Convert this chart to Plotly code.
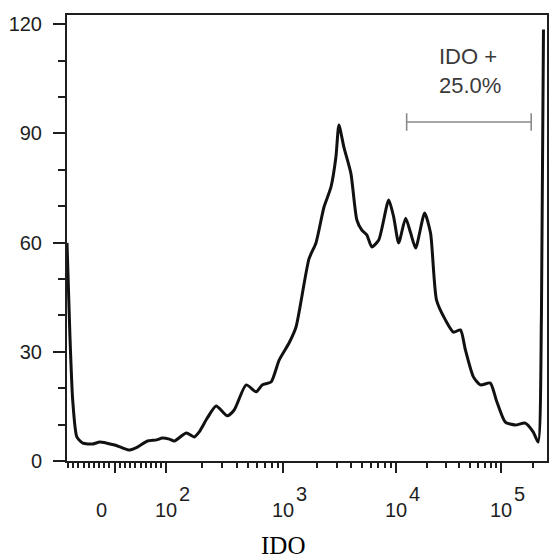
import numpy as np
import plotly.graph_objects as go

# ---------------- data ----------------
# IDO fluorescence intensity (biexponential axis) and event counts
IDO_VALUES = [-92, -86.5, -81, -73, -61.5, -42, -29, -15, 0, 15, 29, 44, 63.5, 81, 92,
              106, 117, 148, 173, 191, 224, 267, 332, 381, 483, 588, 662, 789, 925,
              1130, 1303, 1698, 1959, 2306, 2661, 2946, 3133, 3467, 4000, 4519, 5003,
              5538, 6134, 7075, 8670, 9600, 10670, 12420, 13860, 15450, 18790, 21380,
              24370, 29640, 35250, 41040, 45730, 54420, 63390, 78740, 89730, 109100,
              135600, 168400, 200300, 223400, 240000, 251000]
COUNTS = [59.9, 35, 16.7, 6.6, 4.9, 4.7, 5.2, 4.9, 4.4, 3.6, 3.0, 3.8, 5.5, 5.8, 6.3,
          6.0, 5.5, 7.7, 6.6, 8.0, 11.8, 15.1, 12.4, 14, 20.9, 19, 20.9, 21.7, 27.7,
          32.4, 36.8, 55.5, 59.9, 69.7, 75.2, 83.5, 92.3, 86.2, 79, 66.2, 63.4,
          62.1, 58.8, 60.7, 71.7, 67, 59.9, 66.7, 62.6, 58.5, 68.1, 62.6,
          44.2, 38.7, 35.4, 36, 30.5, 23.1, 20.9, 21.4, 16.7, 10.7,
          9.9, 10.4, 8, 5.2, 40, 118.5]

GATE_LOW = 12700
GATE_HIGH = 192000
GATE_COUNT = 93.1
GATE_CAP = 2.4
GATE_TEXT = "IDO +<br>25.0%"
GATE_TEXT_AT = (24400, 107)

AXIS_MIN = -92
AXIS_MAX = 271000
Y_MAX = 122.5

X_MAJOR_VALUES = [0, 1e2, 1e3, 1e4, 1e5]
X_LABEL_VALUES = [-25, 1e2, 1e3, 1e4, 1e5]
X_LABEL_BASES = ["0", "10", "10", "10", "10"]
X_LABEL_EXPS = ["", "2", "3", "4", "5"]
X_MINOR_VALUES = ([v for v in range(-90, 0, 10)] + [v for v in range(10, 100, 10)] +
                  [k * 10 ** n for n in (2, 3, 4) for k in range(2, 10)] + [2e5])

Y_MAJOR = [0, 30, 60, 90, 120]
Y_MINOR = [10, 20, 40, 50, 70, 80, 100, 110]

# ---------------- biexponential-like display scale ----------------
LIN_ZERO = 1.536          # display position of 0
LIN_SLOPE = 0.464 / 100   # display units per intensity unit in the linear part
DEC_EXP = [2, 3, 4, 5, 6]
DEC_POS = [2.0, 3.045, 4.054, 5.0, 5.946]


def to_display(v):
    v = np.asarray(v, dtype=float)
    logpart = np.interp(np.log10(np.maximum(v, 100.0)), DEC_EXP, DEC_POS)
    return np.where(v <= 100, LIN_ZERO + LIN_SLOPE * v, logpart)


xr = [float(to_display(AXIS_MIN)), float(to_display(AXIS_MAX))]

FONT = "Liberation Sans, Arial, sans-serif"
INK = "#1e1e1e"

fig = go.Figure()
fig.add_trace(go.Scatter(
    x=to_display(IDO_VALUES), y=COUNTS, mode="lines",
    line=dict(color="#111111", width=3, shape="spline", smoothing=0.6),
    hoverinfo="skip", showlegend=False))

gl, gh = float(to_display(GATE_LOW)), float(to_display(GATE_HIGH))
fig.add_trace(go.Scatter(
    x=[gl, gl, None, gl, gh, None, gh, gh],
    y=[GATE_COUNT - GATE_CAP, GATE_COUNT + GATE_CAP, None, GATE_COUNT, GATE_COUNT,
       None, GATE_COUNT - GATE_CAP, GATE_COUNT + GATE_CAP],
    mode="lines", line=dict(color="#8a8a8a", width=1.6),
    hoverinfo="skip", showlegend=False))

fig.add_annotation(x=float(to_display(GATE_TEXT_AT[0])), y=GATE_TEXT_AT[1], xref="x", yref="y",
                   text=GATE_TEXT, showarrow=False, xanchor="left", yanchor="middle",
                   align="left", font=dict(family=FONT, size=22, color="#3a3a3a"))

# x tick labels: base centred on its tick, full-size raised exponent
for v, base, exp in zip(X_LABEL_VALUES, X_LABEL_BASES, X_LABEL_EXPS):
    xd = float(to_display(v))
    fig.add_annotation(x=xd, y=-0.110, xref="x", yref="paper", text=base,
                       showarrow=False, xanchor="center", yanchor="middle",
                       font=dict(family=FONT, size=20, color=INK))
    if exp:
        fig.add_annotation(x=xd, y=-0.075, xref="x", yref="paper", text=exp,
                           showarrow=False, xanchor="left", yanchor="middle", xshift=11,
                           font=dict(family=FONT, size=20, color=INK))

fig.add_annotation(x=0.45, y=-0.19, xref="paper", yref="paper", text="IDO",
                   showarrow=False, xanchor="center", yanchor="middle",
                   font=dict(family="Liberation Serif, Times New Roman, serif", size=25, color="#000"))

fig.update_layout(
    width=550, height=560,
    margin=dict(l=67, r=1, t=15, b=99),
    paper_bgcolor="white", plot_bgcolor="white",
    showlegend=False,
    xaxis=dict(range=xr, tickmode="array", tickvals=list(to_display(X_MAJOR_VALUES)),
               showticklabels=False,
               ticks="outside", ticklen=10, tickwidth=2, tickcolor=INK,
               minor=dict(tickmode="array", tickvals=list(to_display(X_MINOR_VALUES)),
                          ticks="outside", ticklen=5, tickwidth=1.5, tickcolor=INK,
                          showgrid=False),
               showgrid=False, zeroline=False,
               showline=True, linewidth=2, linecolor=INK, mirror=True),
    yaxis=dict(range=[0, Y_MAX], tickmode="array", tickvals=Y_MAJOR,
               ticks="outside", ticklen=12, tickwidth=2, tickcolor=INK,
               minor=dict(tickmode="array", tickvals=Y_MINOR, ticks="outside",
                          ticklen=7, tickwidth=1.5, tickcolor=INK, showgrid=False),
               showgrid=False, zeroline=False, showline=True, linewidth=2,
               linecolor=INK, mirror=True,
               tickfont=dict(family=FONT, size=20, color=INK), ticklabelstandoff=7),
)

fig.write_html("out.html")
